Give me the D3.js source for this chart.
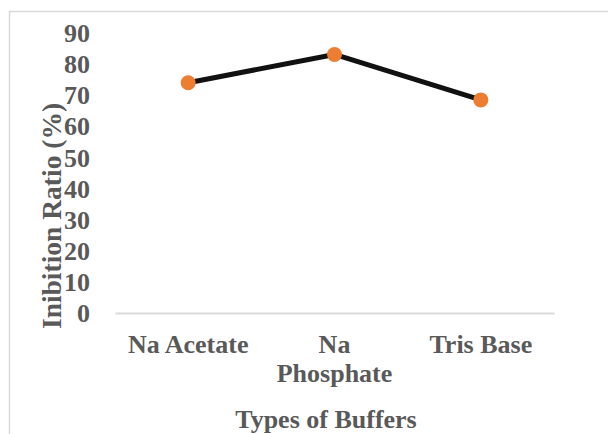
<!DOCTYPE html>
<html>
<head>
<meta charset="utf-8">
<script src="https://cdn.jsdelivr.net/npm/d3@7/dist/d3.min.js"></script>
<style>
  html, body { margin: 0; padding: 0; background: #fff; }
  svg { display: block; }
  text { font-family: "Liberation Serif", "Times New Roman", serif; font-weight: bold; fill: #595959; }
</style>
</head>
<body>
<svg id="chart" width="608" height="434"></svg>
<script>
// Inhibition ratio per buffer type
const categories = ["Na Acetate", "Na Phosphate", "Tris Base"];
const inhibition = [74.0, 83.1, 68.5];
const yTicks = [0, 10, 20, 30, 40, 50, 60, 70, 80, 90];
const xTitle = "Types of Buffers";
const yTitle = "Inibition Ratio (%)";

const svg = d3.select("#chart");
const W = 608, H = 434;
const plot = { left: 115, right: 554, top: 33, bottom: 313 };

// chart frame (top and left edges visible)
svg.append("path")
  .attr("d", `M9.5,${H} L9.5,11.5 L${W},11.5`)
  .attr("fill", "none")
  .attr("stroke", "#d9d9d9")
  .attr("stroke-width", 1.5);

const x = d3.scaleBand().domain(categories).range([plot.left, plot.right]);
const y = d3.scaleLinear().domain([0, 90]).range([plot.bottom, plot.top]);

// y axis labels
const yAxis = d3.axisLeft(y).tickValues(yTicks).tickSize(0).tickPadding(0);
const gy = svg.append("g").attr("transform", "translate(90,0)").call(yAxis);
gy.select(".domain").remove();
gy.selectAll("text")
  .attr("x", 0)
  .attr("dy", "0.33em")
  .style("font-family", "'Liberation Serif', serif")
  .style("font-weight", "bold")
  .style("font-size", "26px")
  .attr("fill", "#595959");

// x axis line and labels
const xAxis = d3.axisBottom(x).tickSize(0).tickPadding(0);
const gx = svg.append("g").attr("transform", `translate(0,${plot.bottom})`).call(xAxis);
gx.select(".domain").attr("stroke", "#d9d9d9").attr("stroke-width", 2);
gx.selectAll("text")
  .attr("y", 40)
  .attr("dy", 0)
  .style("font-family", "'Liberation Serif', serif")
  .style("font-weight", "bold")
  .style("font-size", "26px")
  .attr("fill", "#595959")
  .each(function(d) {
    // wrap labels wider than their band
    const t = d3.select(this);
    const words = d.split(" ");
    t.text(null);
    let line = [];
    let tspan = t.append("tspan").attr("x", 0).attr("dy", 0);
    let lineNo = 0;
    for (const w of words) {
      line.push(w);
      tspan.text(line.join(" "));
      if (tspan.node().getComputedTextLength() > x.bandwidth() && line.length > 1) {
        line.pop();
        tspan.text(line.join(" "));
        line = [w];
        lineNo++;
        tspan = t.append("tspan").attr("x", 0).attr("dy", "29").text(w);
      }
    }
  });

// series line
const line = d3.line()
  .x((d, i) => x(categories[i]) + x.bandwidth() / 2)
  .y(d => y(d));

svg.append("path")
  .datum(inhibition)
  .attr("d", line)
  .attr("fill", "none")
  .attr("stroke", "#111111")
  .attr("stroke-width", 5)
  .attr("stroke-linejoin", "round");

svg.selectAll("circle.pt")
  .data(inhibition)
  .join("circle")
  .attr("class", "pt")
  .attr("cx", (d, i) => x(categories[i]) + x.bandwidth() / 2)
  .attr("cy", d => y(d))
  .attr("r", 7.5)
  .attr("fill", "#ED7D31");

// axis titles
svg.append("text")
  .attr("x", 326)
  .attr("y", 428)
  .attr("text-anchor", "middle")
  .style("font-size", "26px")
  .text(xTitle);

svg.append("text")
  .attr("transform", "translate(61,216) rotate(-90)")
  .attr("text-anchor", "middle")
  .style("font-size", "27.5px")
  .text(yTitle);
</script>
</body>
</html>
